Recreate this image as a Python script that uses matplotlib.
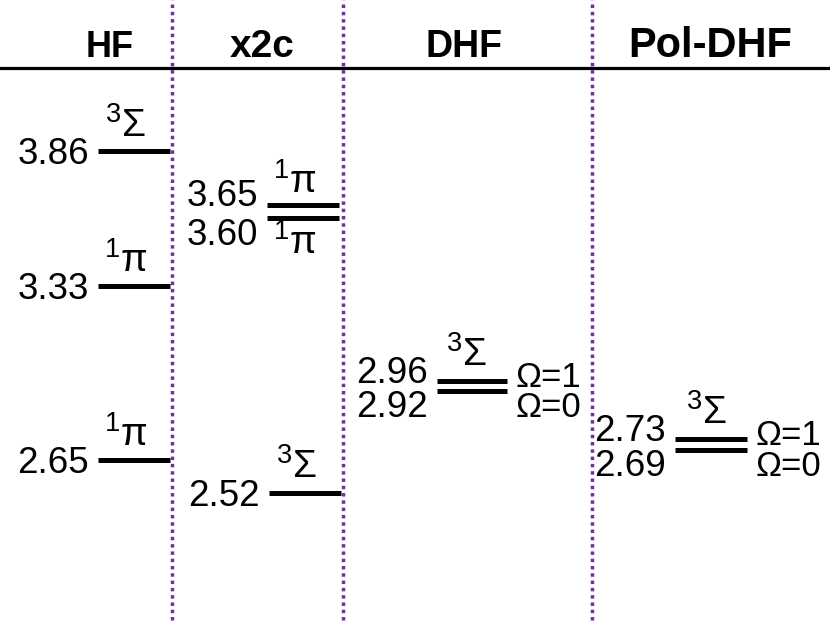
import matplotlib
matplotlib.use('Agg')
import matplotlib.pyplot as plt

# energies (eV)
methods = ['HF', 'x2c', 'DHF', 'Pol-DHF']
hf_energies = [3.86, 3.33, 2.65]
hf_terms = ['3', '1', '1']          # 3 -> Sigma, 1 -> pi
x2c_energies = [3.65, 3.60, 2.52]
x2c_terms = ['1', '1', '3']
dhf_energies = [2.96, 2.92]
pol_energies = [2.73, 2.69]
omega_labels = ['Ω=1', 'Ω=0']

plt.rcParams['font.family'] = ['Liberation Sans', 'DejaVu Sans']
plt.rcParams['mathtext.fontset'] = 'custom'
plt.rcParams['mathtext.rm'] = 'Liberation Sans'
plt.rcParams['mathtext.it'] = 'Liberation Sans'

fig = plt.figure(figsize=(8.3, 6.23), dpi=100)
ax = fig.add_axes([0, 0, 1, 1])
ax.set_xlim(0, 830)
ax.set_ylim(2.01, 4.453)
ax.axis('off')

PX = 0.72  # points per pixel
num_size = 26.5
term_size = 28
omega_size = 25


def term_text(code):
    return r'$^{3}$Σ' if code == '3' else r'$^{1}$π'


def level(x0, x1, e, label_dy=0, term=None, term_dy=15, term_dx=-8):
    ax.hlines(e, x0, x1, color='black', lw=3.6)
    ax.annotate('%.2f' % e, xy=(x0, e), xytext=(-9 * PX, (label_dy - 13) * PX),
                textcoords='offset points', ha='right', va='baseline',
                fontsize=num_size)
    if term is not None:
        ax.annotate(term_text(term), xy=((x0 + x1) / 2, e),
                    xytext=(term_dx * PX, term_dy * PX),
                    textcoords='offset points', ha='center', va='baseline',
                    fontsize=term_size)


def omega(x1, e, dy):
    for lab, en, d in zip(omega_labels, e, dy):
        ax.annotate(lab, xy=(x1, en), xytext=(8 * PX, (d - 12) * PX),
                    textcoords='offset points', ha='left', va='baseline',
                    fontsize=omega_size)


# HF column
for e, t in zip(hf_energies, hf_terms):
    level(98, 170, e, term=t, term_dy=14)

# x2c column (two close 1pi levels spread apart)
level(267, 339, x2c_energies[0], label_dy=12, term=x2c_terms[0], term_dy=12)
level(267, 339, x2c_energies[1], label_dy=-14, term=x2c_terms[1], term_dy=-36)
level(269, 341, x2c_energies[2], term=x2c_terms[2], term_dy=15)

# DHF column
level(437, 507, dhf_energies[0], label_dy=11, term='3', term_dy=15, term_dx=-5)
level(437, 507, dhf_energies[1], label_dy=-13)
omega(507, dhf_energies, [6, -14])

# Pol-DHF column
level(675, 747, pol_energies[0], label_dy=11, term='3', term_dy=15, term_dx=-4)
level(675, 747, pol_energies[1], label_dy=-13)
omega(747, pol_energies, [6, -14])

# header
head_y = 1 - 57 / 623
head_x = [110, 262, 464, 710]
head_sizes = [26, 28, 27, 30]
for m, hx, fs in zip(methods, head_x, head_sizes):
    ax.text(hx / 830, head_y, m, transform=ax.transAxes, ha='center', va='baseline',
            fontsize=fs, fontweight='bold')
ax.plot([0, 1], [1 - 68 / 623] * 2, transform=ax.transAxes, color='black', lw=2.3)

# dotted separators
for sx in [172, 343, 592]:
    ax.plot([sx / 830] * 2, [0.005, 1], transform=ax.transAxes, color='#7030A0',
            lw=2.5, linestyle=(0, (1, 1.1)))

fig.savefig('out.png', dpi=100)
